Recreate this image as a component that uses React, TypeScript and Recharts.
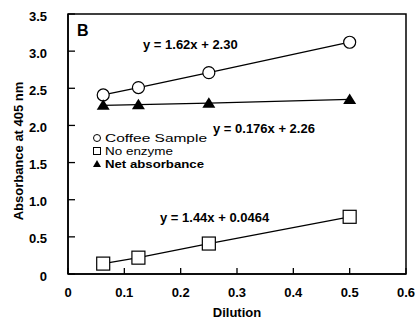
import React from 'react';
import { LineChart, Line, XAxis, YAxis, ReferenceArea, Customized } from 'recharts';

const dilutions = [0.0625, 0.125, 0.25, 0.5];
const coffeeSample = [2.41, 2.51, 2.71, 3.12];
const noEnzyme = [0.14, 0.22, 0.41, 0.77];
const netAbsorbance = [2.27, 2.28, 2.30, 2.35];
const xTicks = [0, 0.1, 0.2, 0.3, 0.4, 0.5, 0.6];
const yTicks = [0, 0.5, 1, 1.5, 2, 2.5, 3, 3.5];
const seriesNames = ['Coffee Sample', 'No enzyme', 'Net absorbance'];
const equations = ['y = 1.62x + 2.30', 'y = 0.176x + 2.26', 'y = 1.44x + 0.0464'];
const panelLabel = 'B';
const xTitle = 'Dilution';
const yTitle = 'Absorbance at 405 nm';

const rows = dilutions.map((d, i) => ({
  x: d,
  coffee: coffeeSample[i],
  noenz: noEnzyme[i],
  net: netAbsorbance[i],
}));

const FONT = '"Liberation Sans", Arial, Helvetica, sans-serif';
const fmt = (v: number) => (v === 0 ? '0' : v.toFixed(1));

const YTick = (props: any) => {
  const { x, y, payload } = props;
  return (
    <g>
      <line x1={x} x2={x + 7} y1={y} y2={y} stroke="#000" strokeWidth={1.3} />
      <text x={x - 21} y={y} dy={6.5} textAnchor="end" fontFamily={FONT} fontWeight="bold" fontSize={13} fill="#000">
        {fmt(payload.value)}
      </text>
    </g>
  );
};

const XTick = (props: any) => {
  const { x, y, payload } = props;
  return (
    <g>
      <line x1={x} x2={x} y1={y} y2={y - 6} stroke="#000" strokeWidth={1.3} />
      <text x={x} y={y + 23} textAnchor="middle" fontFamily={FONT} fontWeight="bold" fontSize={13} fill="#000">
        {fmt(payload.value)}
      </text>
    </g>
  );
};

const squareDot = (p: any) => (
  <rect key={`sq-${p.index}`} x={p.cx - 6.5} y={p.cy - 6.5} width={13} height={13} fill="#fff" stroke="#000" strokeWidth={1.2} />
);
const triDot = (p: any) => (
  <path key={`tr-${p.index}`} d={`M${p.cx},${p.cy - 6} L${p.cx + 6.5},${p.cy + 4.5} L${p.cx - 6.5},${p.cy + 4.5} Z`} fill="#000" />
);

const Overlay = () => (
  <g fontFamily={FONT} fill="#000">
    <text x={77} y={36} fontSize={16} fontWeight="bold">{panelLabel}</text>
    <text x={143} y={49} fontSize={13} fontWeight="bold">{equations[0]}</text>
    <text x={213} y={132.5} fontSize={13} fontWeight="bold">{equations[1]}</text>
    <text x={160} y={221.5} fontSize={13} fontWeight="bold">{equations[2]}</text>
    <circle cx={97} cy={138} r={3.5} fill="#fff" stroke="#000" strokeWidth={1} />
    <text x={105} y={142} fontSize={11.5} textLength={102} lengthAdjust="spacingAndGlyphs">{seriesNames[0]}</text>
    <rect x={93.5} y={147.5} width={7} height={7} fill="#fff" stroke="#000" strokeWidth={1} />
    <text x={105} y={155} fontSize={11.5} textLength={68} lengthAdjust="spacingAndGlyphs">{seriesNames[1]}</text>
    <path d="M97,160 L101,167 L93,167 Z" fill="#000" />
    <text x={105} y={168} fontSize={11.5} fontWeight="bold" textLength={99} lengthAdjust="spacingAndGlyphs">{seriesNames[2]}</text>
    <text x={237} y={317} fontSize={13} fontWeight="bold" textAnchor="middle">{xTitle}</text>
    <text transform="translate(23,151) rotate(-90)" fontSize={13} fontWeight="bold" textAnchor="middle">{yTitle}</text>
  </g>
);

export default function App() {
  return (
    <div style={{ position: 'absolute', left: 0, top: 0, background: '#fff' }}>
      <LineChart width={415} height={323} data={rows} margin={{ top: 14, right: 9, left: 0, bottom: 0 }}>
        <XAxis
          dataKey="x"
          type="number"
          domain={[0, 0.6]}
          ticks={xTicks}
          height={49}
          tickSize={0}
          tickMargin={0}
          tickLine={false}
          axisLine={{ stroke: '#000', strokeWidth: 1.5 }}
          tick={<XTick />}
          interval={0}
        />
        <YAxis
          type="number"
          domain={[0, 3.5]}
          ticks={yTicks}
          width={68}
          tickSize={0}
          tickMargin={0}
          tickLine={false}
          axisLine={{ stroke: '#000', strokeWidth: 1.5 }}
          tick={<YTick />}
          interval={0}
        />
        <ReferenceArea x1={0} x2={0.6} y1={0} y2={3.5} fill="none" fillOpacity={0} stroke="#000" strokeWidth={1.5} ifOverflow="visible" />
        <Line dataKey="coffee" stroke="#000" strokeWidth={1.3} isAnimationActive={false}
          dot={{ r: 6, fill: '#fff', stroke: '#000', strokeWidth: 1.2 }} />
        <Line dataKey="noenz" stroke="#000" strokeWidth={1.3} isAnimationActive={false} dot={squareDot} />
        <Line dataKey="net" stroke="#000" strokeWidth={1.3} isAnimationActive={false} dot={triDot} />
        <Customized component={Overlay} />
      </LineChart>
    </div>
  );
}
